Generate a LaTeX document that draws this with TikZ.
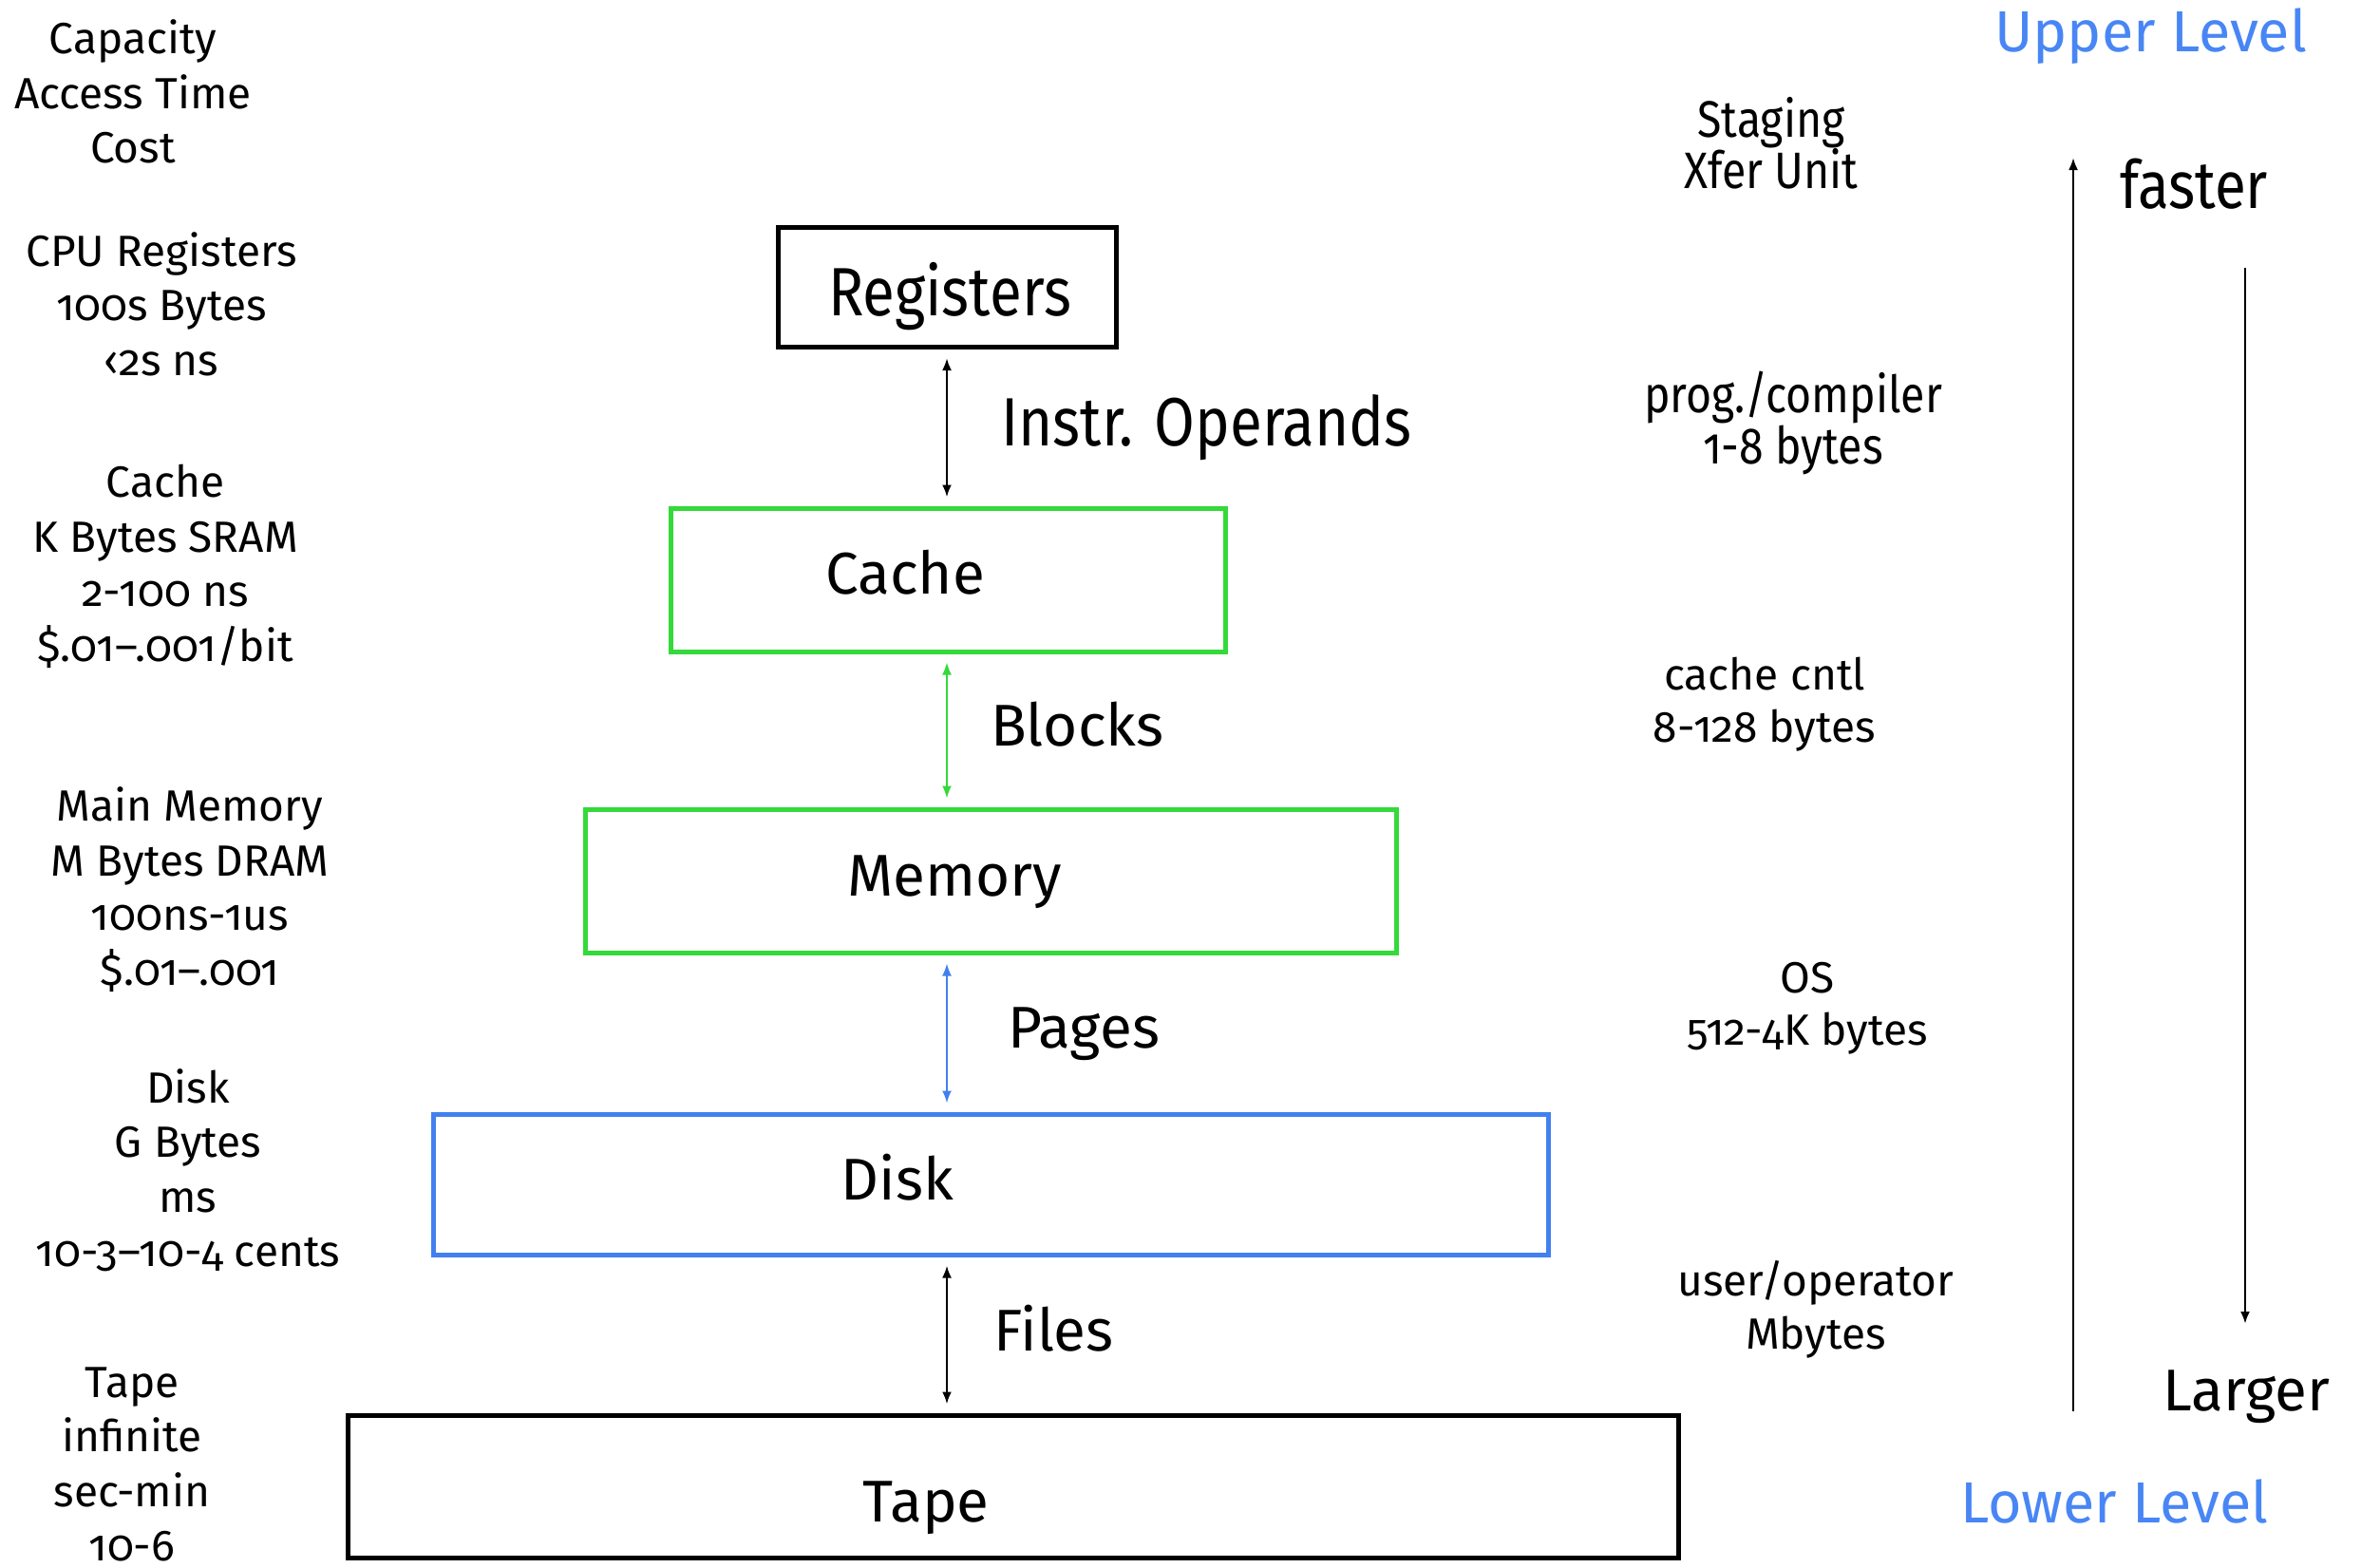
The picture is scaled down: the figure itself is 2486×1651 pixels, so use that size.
\documentclass[tikz,border=0pt]{standalone}
\usepackage{fontspec}
\setmainfont{Fira Sans}[Numbers=OldStyle]
\newfontfamily\condfont{Fira Sans}[Numbers=OldStyle,FakeStretch=0.86]
\usetikzlibrary{arrows.meta}
\definecolor{boxgreen}{RGB}{52,217,58}
\definecolor{boxblue}{RGB}{66,128,240}
\definecolor{lvlblue}{RGB}{72,134,245}
\begin{document}
\begin{tikzpicture}[x=1pt,y=-1pt,
  level/.style={draw, line width=5pt, inner sep=0pt, rectangle},
  boxlabel/.style={font=\fontsize{62}{70}\selectfont, inner sep=0pt},
  condlabel/.style={font=\condfont\fontsize{72}{80}\selectfont, inner sep=0pt},
  edgelabel/.style={font=\fontsize{62}{70}\selectfont, inner sep=0pt, anchor=west},
  info/.style={font=\fontsize{46}{57.5}\selectfont, align=center, inner sep=0pt},
  xfer/.style={font=\fontsize{46}{55.5}\selectfont, align=center, inner sep=0pt},
  xfercond/.style={font=\condfont\fontsize{54}{54.5}\selectfont, align=center, inner sep=0pt},
  conn/.style={line width=2.5pt, {Latex[length=13pt,width=10pt]}-{Latex[length=13pt,width=10pt]}, shorten <=9pt, shorten >=9pt},
  ]
\fill[white] (0,0) rectangle (2486,1651);
\useasboundingbox (0,0) rectangle (2486,1651);

% level boxes
\node[level, minimum width=356pt, minimum height=126pt] (reg) at (997,302.5) {};
\node[level, draw=boxgreen, minimum width=584pt, minimum height=151pt] (cache) at (998,610.5) {};
\node[level, draw=boxgreen, minimum width=854pt, minimum height=151pt] (mem) at (1043,927.5) {};
\node[level, draw=boxblue, minimum width=1174pt, minimum height=148pt] (disk) at (1043,1247) {};
\node[level, minimum width=1401pt, minimum height=150pt] (tape) at (1066.5,1565) {};

% box labels
\node[condlabel] (regl) at (1000,312) {Registers};
\node[boxlabel] (cachel) at (953,603) {Cache};
\node[boxlabel] (meml) at (1005,929) {Memory};
\node[boxlabel] (diskl) at (945,1240) {Disk};
\node[boxlabel] (tapel) at (975,1588) {Tape};

% connectors
\draw[conn] (reg.south) -- (reg.south |- cache.north);
\draw[conn, draw=boxgreen, line width=2pt] (reg.south |- cache.south) -- (reg.south |- mem.north);
\draw[conn, draw=boxblue, line width=2pt] (reg.south |- mem.south) -- (reg.south |- disk.north);
\draw[conn] (reg.south |- disk.south) -- (reg.south |- tape.north);

% connector labels
\node[condlabel, anchor=west] (instr) at (1054,450) {Instr. Operands};
\node[edgelabel] (blocks) at (1043,763) {Blocks};
\node[edgelabel] (pages) at (1061,1089) {Pages};
\node[edgelabel] (files) at (1046,1399) {Files};

% left column
\node[info] (hdr) at (140,96.5) {Capacity\\Access Time\\Cost};
\node[info] (cpuinfo) at (170,320) {CPU Registers\\100s Bytes\\‹2s ns};
\node[info] (cacheinfo) at (174,596.5) {Cache\\K Bytes SRAM\\2-100 ns\\\$.01–.001/bit};
\node[info] (meminfo) at (200,936.5) {Main Memory\\M Bytes DRAM\\100ns-1us\\\$.01–.001};
\node[info] (diskinfo) at (198,1232) {Disk\\G Bytes\\ms\\10-3–10-4 cents};
\node[info] (tapeinfo) at (139,1542) {Tape\\infinite\\sec-min\\10-6};

% right column
\node[xfercond] (staging) at (1865,151) {Staging\\Xfer Unit};
\node[xfercond] (prog) at (1888,445.5) {prog./compiler\\1-8 bytes};
\node[xfer] (cntl) at (1858,741.5) {cache cntl\\8-128 bytes};
\node[xfer] (os) at (1903,1062) {OS\\512-4K bytes};
\node[xfer] (user) at (1912,1379) {user/operator\\Mbytes};

% levels and trend arrows
\node[font=\fontsize{61}{70}\selectfont, text=lvlblue, inner sep=0pt, anchor=east] (upper) at (2429,38) {Upper Level};
\node[font=\fontsize{61}{70}\selectfont, text=lvlblue, inner sep=0pt, anchor=west] (lower) at (2064,1581) {Lower Level};
\node[font=\condfont\fontsize{70}{80}\selectfont, inner sep=0pt, anchor=west] (faster) at (2232,194) {faster};
\node[font=\fontsize{62}{70}\selectfont, inner sep=0pt, anchor=west] (larger) at (2277,1471) {Larger};

\coordinate (upbot) at (2183,1486);
\coordinate (uptop) at (2183,166);
\coordinate (dntop) at (2364,282);
\coordinate (dnbot) at (2364,1394);
\draw[line width=2.5pt, -{Latex[length=13pt,width=10pt]}] (upbot) -- (uptop);
\draw[line width=2.5pt, -{Latex[length=13pt,width=10pt]}] (dntop) -- (dnbot);
\end{tikzpicture}
\end{document}
